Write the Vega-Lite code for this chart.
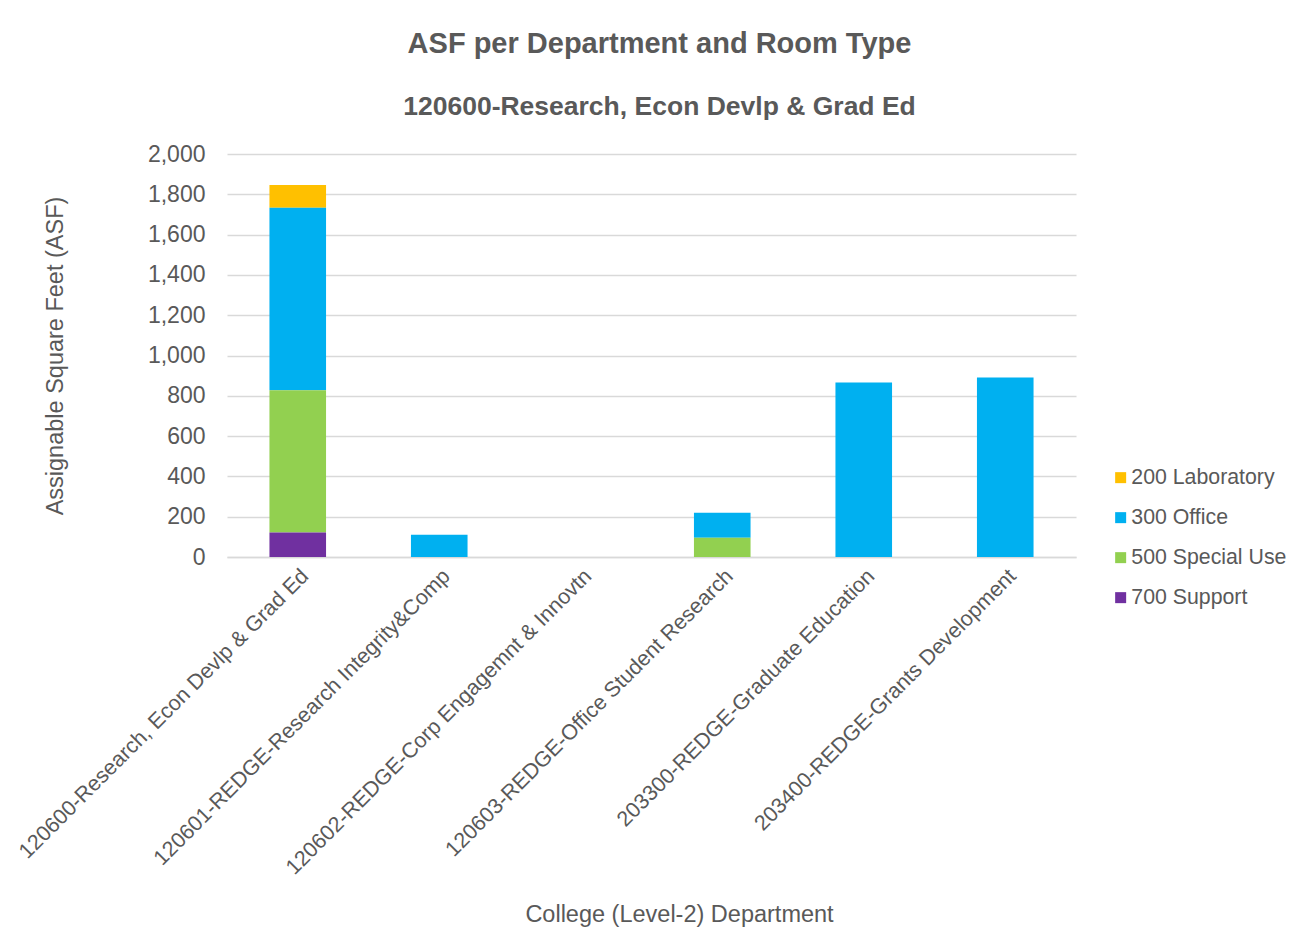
{
  "$schema": "https://vega.github.io/schema/vega-lite/v6.json",
  "width": 849,
  "height": 403,
  "autosize": {"type": "none"},
  "padding": {"left": 227, "top": 154, "right": 237, "bottom": 392},
  "background": "white",
  "title": {
    "text": "ASF per Department and Room Type",
    "subtitle": "120600-Research, Econ Devlp & Grad Ed",
    "anchor": "middle",
    "dx": 8,
    "offset": 23,
    "font": "Liberation Sans",
    "fontSize": 29,
    "fontWeight": "bold",
    "color": "#595959",
    "subtitleFont": "Liberation Sans",
    "subtitleFontSize": 26.5,
    "subtitleFontWeight": "bold",
    "subtitleColor": "#595959",
    "subtitlePadding": 35
  },
  "data": {
    "values": [
      {"dept": "120600-Research, Econ Devlp & Grad Ed", "type": "200 Laboratory", "asf": 113},
      {"dept": "120600-Research, Econ Devlp & Grad Ed", "type": "300 Office", "asf": 905},
      {"dept": "120600-Research, Econ Devlp & Grad Ed", "type": "500 Special Use", "asf": 707},
      {"dept": "120600-Research, Econ Devlp & Grad Ed", "type": "700 Support", "asf": 121},
      {"dept": "120601-REDGE-Research Integrity&Comp", "type": "300 Office", "asf": 111},
      {"dept": "120602-REDGE-Corp Engagemnt & Innovtn", "type": "300 Office", "asf": 0},
      {"dept": "120603-REDGE-Office Student Research", "type": "300 Office", "asf": 124},
      {"dept": "120603-REDGE-Office Student Research", "type": "500 Special Use", "asf": 96},
      {"dept": "203300-REDGE-Graduate Education", "type": "300 Office", "asf": 866},
      {"dept": "203400-REDGE-Grants Development", "type": "300 Office", "asf": 891}
    ]
  },
  "mark": {"type": "bar"},
  "encoding": {
    "x": {
      "field": "dept",
      "type": "nominal",
      "sort": null,
      "scale": {"paddingInner": 0.6, "paddingOuter": 0.3},
      "axis": {
        "title": "College (Level-2) Department",
        "labelAngle": -45,
        "labelFont": "Liberation Sans",
        "labelFontSize": 21.5,
        "labelColor": "#595959",
        "labelPadding": 8,
        "labelLimit": 600,
        "ticks": false,
        "domainColor": "#d9d9d9",
        "domainWidth": 1.3,
        "titleFont": "Liberation Sans",
        "titleFontSize": 23.5,
        "titleFontWeight": "normal",
        "titleColor": "#595959",
        "titlePadding": 145,
        "titleX": 452
      }
    },
    "y": {
      "field": "asf",
      "type": "quantitative",
      "stack": "zero",
      "scale": {"domain": [0, 2000]},
      "axis": {
        "title": "Assignable Square Feet (ASF)",
        "values": [0, 200, 400, 600, 800, 1000, 1200, 1400, 1600, 1800, 2000],
        "format": ",.0f",
        "domain": false,
        "ticks": false,
        "grid": true,
        "gridColor": "#d9d9d9",
        "gridWidth": 1.3,
        "labelFont": "Liberation Sans",
        "labelFontSize": 23,
        "labelColor": "#595959",
        "labelPadding": 22,
        "titleFont": "Liberation Sans",
        "titleFontSize": 23.5,
        "titleFontWeight": "normal",
        "titleColor": "#595959",
        "titlePadding": 80
      }
    },
    "color": {
      "field": "type",
      "type": "nominal",
      "scale": {
        "domain": ["200 Laboratory", "300 Office", "500 Special Use", "700 Support"],
        "range": ["#FFC000", "#00B0F0", "#92D050", "#7030A0"]
      },
      "legend": {
        "title": null,
        "orient": "none",
        "legendX": 883,
        "legendY": 313,
        "padding": 0,
        "symbolType": "square",
        "symbolSize": 121,
        "symbolStrokeWidth": 0,
        "symbolOpacity": 1,
        "labelFont": "Liberation Sans",
        "labelFontSize": 21.3,
        "labelColor": "#595959",
        "labelOffset": 0,
        "rowPadding": 18
      }
    },
    "order": {"field": "type", "sort": "descending"}
  },
  "config": {
    "view": {"stroke": null}
  }
}
